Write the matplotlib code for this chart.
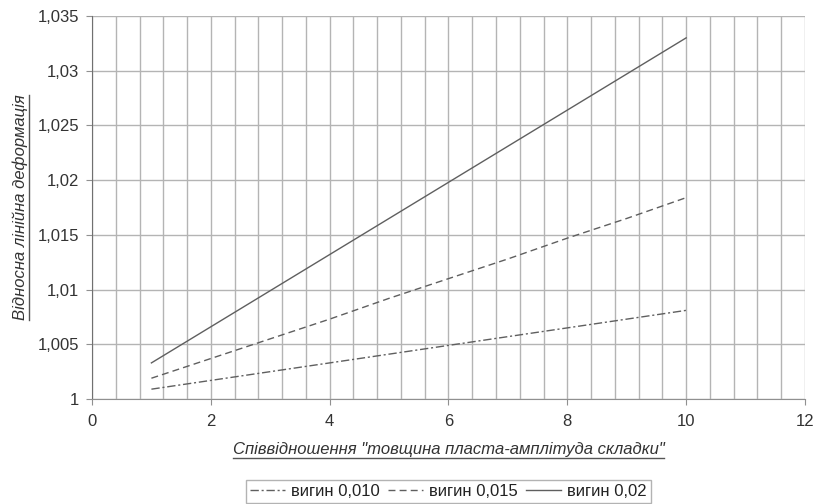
import numpy as np
import matplotlib
matplotlib.use('Agg')
import matplotlib.pyplot as plt
from matplotlib.ticker import MultipleLocator, FuncFormatter
from matplotlib.lines import Line2D

plt.rcParams['font.family'] = ['Liberation Sans', 'DejaVu Sans']

# data
x = [1, 2, 3, 4, 5, 6, 7, 8, 9, 10]
vygyn_010 = [1.0009, 1.0017, 1.0025, 1.0033, 1.0041, 1.0049, 1.0057, 1.0065, 1.0073, 1.0081]
vygyn_015 = [1.0019, 1.0037, 1.0055, 1.0073, 1.0092, 1.0110, 1.0128, 1.0147, 1.0165, 1.0184]
vygyn_02 = [1.0033, 1.0066, 1.0099, 1.0132, 1.0165, 1.0198, 1.0231, 1.0264, 1.0297, 1.0330]
labels = ['вигин 0,010', 'вигин 0,015', 'вигин 0,02']

col = '#5f5f5f'
gridc = '#b4b4b4'

fig = plt.figure(figsize=(8.17, 5.04), dpi=100)
ax = fig.add_axes([0.1126, 0.2083, 0.8727, 0.76])

ax.plot(x, vygyn_010, color=col, lw=1.0, dashes=(6, 2, 1.5, 2), label=labels[0])
ax.plot(x, vygyn_015, color=col, lw=1.0, dashes=(5, 3), label=labels[1])
ax.plot(x, vygyn_02, color=col, lw=1.0, label=labels[2])

ax.set_xlim(0, 12)
ax.set_ylim(1, 1.035)
ax.xaxis.set_major_locator(MultipleLocator(2))
ax.xaxis.set_minor_locator(MultipleLocator(0.4))
ax.yaxis.set_major_locator(MultipleLocator(0.005))

def fmt(v, pos):
    s = ('%.3f' % v).rstrip('0').rstrip('.')
    return s.replace('.', ',')
ax.yaxis.set_major_formatter(FuncFormatter(fmt))
ax.xaxis.set_major_formatter(FuncFormatter(lambda v, p: '%d' % v))

ax.grid(True, which='major', color=gridc, lw=1.0)
ax.grid(True, which='minor', axis='x', color=gridc, lw=1.0)
ax.set_axisbelow(True)
for s in ['top', 'right']:
    ax.spines[s].set_visible(False)
ax.spines['left'].set_color('#707070')
ax.spines['bottom'].set_color('#909090')
ax.tick_params(which='major', direction='out', length=4, color='#909090',
               labelsize=12, labelcolor='#333333')
ax.tick_params(axis='y', pad=5)
ax.tick_params(which='minor', length=0)
ax.tick_params(axis='x', pad=7)

xl = ax.set_xlabel('Співвідношення "товщина пласта-амплітуда складки"',
                   fontsize=12, style='italic', color='#333333', labelpad=9)
yl = ax.set_ylabel('Відносна лінійна деформація', fontsize=12,
                   style='italic', color='#333333', labelpad=7)

leg = fig.legend(loc='lower center', bbox_to_anchor=(0.549, 0.0), ncol=3,
                 frameon=True, fancybox=False, edgecolor='#a0a0a0',
                 fontsize=12, handlelength=2.1, handletextpad=0.35,
                 columnspacing=0.5, borderpad=0.25, borderaxespad=0.05)
leg.get_frame().set_linewidth(1.0)
for t in leg.get_texts():
    t.set_color('#222222')

# underline the axis titles
fig.canvas.draw()
r = fig.canvas.get_renderer()
inv = fig.transFigure.inverted()
bb = xl.get_window_extent(r)
(x0, y0), (x1, y1) = inv.transform([(bb.x0, bb.y0 - 1), (bb.x1, bb.y0 - 1)])
fig.add_artist(Line2D([x0, x1], [y0, y1], color='#555555', lw=1.0, transform=fig.transFigure))
bb = yl.get_window_extent(r)
(x0, y0), (x1, y1) = inv.transform([(bb.x1 + 1, bb.y0), (bb.x1 + 1, bb.y1)])
fig.add_artist(Line2D([x0, x1], [y0, y1], color='#555555', lw=1.0, transform=fig.transFigure))

fig.savefig('out.png', dpi=100)
